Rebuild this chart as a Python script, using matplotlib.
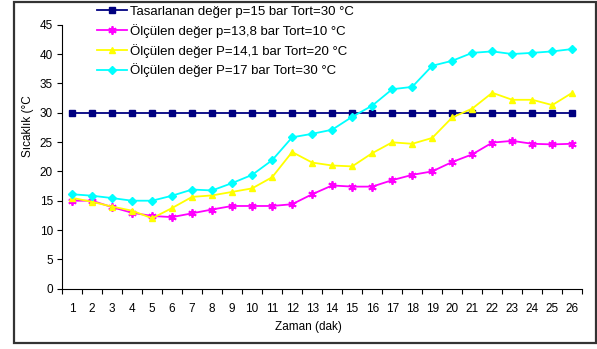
import numpy as np
import matplotlib
matplotlib.use("Agg")
import matplotlib.pyplot as plt
from matplotlib.patches import Rectangle

plt.rcParams['font.family'] = ['Liberation Sans', 'DejaVu Sans']

minutes = list(range(1, 27))

tasarlanan = [30] * 26
olcu_10 = [15.0, 15.0, 13.9, 12.95, 12.4, 12.2, 12.85, 13.5, 14.1, 14.1, 14.1, 14.4, 16.1,
           17.6, 17.4, 17.4, 18.5, 19.4, 20.0, 21.6, 22.9, 24.9, 25.2, 24.7, 24.6, 24.7]
olcu_20 = [15.5, 14.8, 14.0, 13.3, 12.0, 13.75, 15.65, 15.9, 16.5, 17.1, 19.0, 23.3, 21.5,
           21.0, 20.85, 23.1, 24.95, 24.7, 25.7, 29.2, 30.7, 33.4, 32.2, 32.2, 31.3, 33.4]
olcu_30 = [16.1, 15.85, 15.45, 15.0, 15.0, 15.85, 16.9, 16.75, 18.0, 19.4, 21.9, 25.8, 26.4,
           27.1, 29.3, 31.2, 34.0, 34.4, 38.0, 38.85, 40.2, 40.45, 40.0, 40.2, 40.45, 40.85]

labels = ["Tasarlanan değer p=15 bar Tort=30 °C",
          "Ölçülen değer p=13,8 bar Tort=10 °C",
          "Ölçülen değer P=14,1 bar Tort=20 °C",
          "Ölçülen değer P=17 bar Tort=30 °C"]

W, H = 597, 349
fig = plt.figure(figsize=(W / 100, H / 100), dpi=100)
ax = fig.add_axes([62 / W, 1 - 288.7 / H, (582.3 - 62) / W, (288.7 - 24.7) / H])

ax.plot(minutes, tasarlanan, color='#000080', lw=1.3, marker='s', ms=4, label=labels[0])
ax.plot(minutes, olcu_10, color='#FF00FF', lw=1.3, marker=(6, 2, 0), ms=6, mew=1.3, label=labels[1])
ax.plot(minutes, olcu_20, color='#FFFF00', lw=1.3, marker='^', ms=5, label=labels[2])
ax.plot(minutes, olcu_30, color='#00FFFF', lw=1.3, marker='D', ms=4, label=labels[3])

ax.set_xlim(0.5, 26.5)
ax.set_ylim(0, 45)
ax.set_yticks(np.arange(0, 46, 5))
ax.set_xticks(np.arange(0.5, 27, 1))
ax.set_xticklabels([])
ax.set_xticks(minutes, minor=True)
ax.set_xticklabels([str(m) for m in minutes], minor=True)
ax.tick_params(axis='x', which='minor', length=0, labelsize=8.5, pad=10)
ax.tick_params(axis='x', which='major', length=3.5, direction='out', width=0.8)
ax.tick_params(axis='y', length=3.5, direction='out', width=0.8, labelsize=8.5, pad=3)
for s in ['top', 'right']:
    ax.spines[s].set_visible(False)
for s in ['left', 'bottom']:
    ax.spines[s].set_linewidth(0.8)

fig.text(308 / W, 1 - 327 / H, "Zaman (dak)", ha='center', va='center', fontsize=8.5)
fig.text(28 / W, 1 - 157 / H, "Sıcaklık (°C", rotation=90, ha='center', va='bottom', fontsize=8.5)

fig.legend(loc='upper left', bbox_to_anchor=(94 / W, 1 - 3 / H), frameon=False,
           fontsize=9.5, handlelength=2.3, handletextpad=0.25, labelspacing=0.45,
           borderaxespad=0, borderpad=0.2)

fig.patches.append(Rectangle((14 / W, 1 - 343 / H), 582 / W, 341 / H, transform=fig.transFigure,
                             fill=False, edgecolor='#333333', lw=1.6))

fig.savefig("out.png", dpi=100)
